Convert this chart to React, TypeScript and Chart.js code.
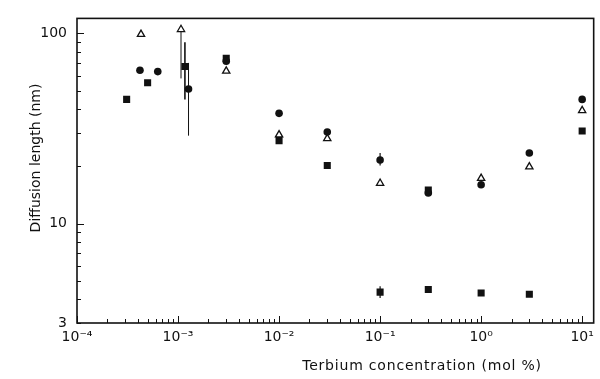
import { useEffect, useRef } from 'react';
import { Chart, registerables } from 'chart.js';

Chart.register(...registerables);

// ---- data ----
const triangleX = [4.3e-4, 1.07e-3, 3e-3, 1e-2, 3e-2, 0.1, 1, 3, 10];
const triangleY = [99, 105, 63.4, 29.3, 28, 16.3, 17.3, 19.9, 39.3];

const circleX = [4.2e-4, 6.3e-4, 1.27e-3, 3e-3, 1e-2, 3e-2, 0.1, 0.3, 1, 3, 10];
const circleY = [64, 63, 51, 71.5, 38, 30.3, 21.6, 14.5, 16.0, 23.5, 45];

const squareX = [3.1e-4, 5e-4, 1.17e-3, 3e-3, 1e-2, 3e-2, 0.3, 10, 0.1, 0.3, 1, 3];
const squareY = [45, 55, 67, 74, 27.3, 20.2, 15, 30.7, 4.36, 4.5, 4.31, 4.25];

// vertical error bars
const errX = [1.07e-3, 1.17e-3, 1.27e-3, 0.1, 0.1];
const errLow = [58, 45, 29, 20.2, 4.06];
const errHigh = [105, 90, 70, 23.5, 4.68];
const errWidth = [1, 1.6, 1, 1.2, 1.2];

// axes
const xMin = 1e-4;
const xMax = 13;
const yMin = 3;
const yMax = 120;
const xTickValues = [1e-4, 1e-3, 1e-2, 1e-1, 1, 10];
const xTickLabels = ['10⁻⁴', '10⁻³', '10⁻²', '10⁻¹', '10⁰', '10¹'];
const yTickValues = [3, 10, 100];
const yTickLabels = ['3', '10', '100'];

const xTitle = 'Terbium concentration (mol %)';
const yTitle = 'Diffusion length (nm)';

const INK = '#111';
const FONT = 'DejaVu Sans';

const toPts = (xs: number[], ys: number[]) => xs.map((x, i) => ({ x, y: ys[i] }));

const errorBarPlugin = {
  id: 'errorBars',
  beforeDatasetsDraw(chart: any) {
    const { ctx, chartArea, scales } = chart;
    ctx.save();
    ctx.beginPath();
    ctx.rect(chartArea.left, chartArea.top, chartArea.right - chartArea.left, chartArea.bottom - chartArea.top);
    ctx.clip();
    ctx.strokeStyle = INK;
    errX.forEach((x, i) => {
      const px = scales.x.getPixelForValue(x);
      ctx.lineWidth = errWidth[i];
      ctx.beginPath();
      ctx.moveTo(px, scales.y.getPixelForValue(errLow[i]));
      ctx.lineTo(px, scales.y.getPixelForValue(errHigh[i]));
      ctx.stroke();
    });
    ctx.restore();
  },
};

const framePlugin = {
  id: 'frameTicks',
  afterDraw(chart: any) {
    const { ctx, chartArea, scales } = chart;
    const { left, right, top, bottom } = chartArea;
    ctx.save();
    ctx.strokeStyle = INK;
    ctx.lineWidth = 1;
    // x ticks (inward, bottom)
    const xs = scales.x;
    for (let e = -4; e <= 1; e++) {
      for (let k = 1; k < 10; k++) {
        const v = k * Math.pow(10, e);
        if (v < xs.min * 0.999 || v > xs.max) continue;
        const px = Math.round(xs.getPixelForValue(v)) + 0.5;
        const len = k === 1 ? 7 : 4;
        ctx.beginPath();
        ctx.moveTo(px, bottom);
        ctx.lineTo(px, bottom - len);
        ctx.stroke();
      }
    }
    // y ticks (inward, left)
    const ys = scales.y;
    for (let e = 0; e <= 2; e++) {
      for (let k = 1; k < 10; k++) {
        const v = k * Math.pow(10, e);
        if (v < ys.min * 0.999 || v > ys.max) continue;
        const py = Math.round(ys.getPixelForValue(v)) + 0.5;
        const len = k === 1 ? 7 : 4;
        ctx.beginPath();
        ctx.moveTo(left, py);
        ctx.lineTo(left + len, py);
        ctx.stroke();
      }
    }
    // frame
    ctx.lineWidth = 1.6;
    ctx.strokeRect(left, top, right - left, bottom - top);

    // axis titles
    ctx.fillStyle = INK;
    ctx.textAlign = 'center';
    ctx.textBaseline = 'middle';
    ctx.font = `14px "${FONT}"`;
    try {
      (ctx as any).letterSpacing = '0.8px';
    } catch (e) {}
    ctx.fillText(xTitle, 422, 366);
    try {
      (ctx as any).letterSpacing = '0px';
    } catch (e) {}
    ctx.translate(36, 158);
    ctx.rotate(-Math.PI / 2);
    ctx.fillText(yTitle, 0, 0);
    ctx.restore();
  },
};

export default function App() {
  const ref = useRef<HTMLCanvasElement | null>(null);

  useEffect(() => {
    if (!ref.current) return;
    const chart = new Chart(ref.current, {
      type: 'scatter',
      data: {
        datasets: [
          {
            label: 'triangles',
            data: toPts(triangleX, triangleY),
            pointStyle: 'triangle',
            radius: 4.2,
            backgroundColor: '#fff',
            borderColor: INK,
            borderWidth: 1.3,
          },
          {
            label: 'circles',
            data: toPts(circleX, circleY),
            pointStyle: 'circle',
            radius: 3.8,
            backgroundColor: INK,
            borderColor: INK,
            borderWidth: 0,
          },
          {
            label: 'squares',
            data: toPts(squareX, squareY),
            pointStyle: 'rect',
            radius: 5,
            backgroundColor: INK,
            borderColor: INK,
            borderWidth: 0,
          },
        ],
      },
      options: {
        responsive: false,
        animation: false,
        events: [],
        layout: { padding: { top: 7, right: 4, left: 0, bottom: 0 } },
        plugins: { legend: { display: false }, tooltip: { enabled: false } },
        scales: {
          x: {
            type: 'logarithmic',
            min: xMin,
            max: xMax,
            grid: { display: false, drawTicks: false },
            border: { display: false },
            afterBuildTicks: (s: any) => {
              s.ticks = xTickValues.map((v) => ({ value: v }));
            },
            afterFit: (s: any) => {
              s.height = 56;
            },
            ticks: {
              autoSkip: false,
              maxRotation: 0,
              padding: 6,
              color: INK,
              font: { family: FONT, size: 14 },
              callback: (v: any) => {
                const i = xTickValues.findIndex((t) => Math.abs(t - Number(v)) / t < 1e-6);
                return i >= 0 ? xTickLabels[i] : '';
              },
            },
            title: { display: false },
          },
          y: {
            type: 'logarithmic',
            min: yMin,
            max: yMax,
            grid: { display: false, drawTicks: false },
            border: { display: false },
            afterBuildTicks: (s: any) => {
              s.ticks = yTickValues.map((v) => ({ value: v }));
            },
            afterFit: (s: any) => {
              s.width = 77;
            },
            ticks: {
              autoSkip: false,
              padding: 10,
              color: INK,
              font: { family: FONT, size: 14 },
              callback: (v: any) => {
                const i = yTickValues.findIndex((t) => Math.abs(t - Number(v)) / t < 1e-6);
                return i >= 0 ? yTickLabels[i] : '';
              },
            },
            title: { display: false },
          },
        },
      },
      plugins: [errorBarPlugin, framePlugin],
    });
    return () => chart.destroy();
  }, []);

  return (
    <div style={{ position: 'absolute', left: 0, top: 0, width: 600, height: 379, background: '#fff' }}>
      <canvas ref={ref} width={600} height={379} />
    </div>
  );
}
